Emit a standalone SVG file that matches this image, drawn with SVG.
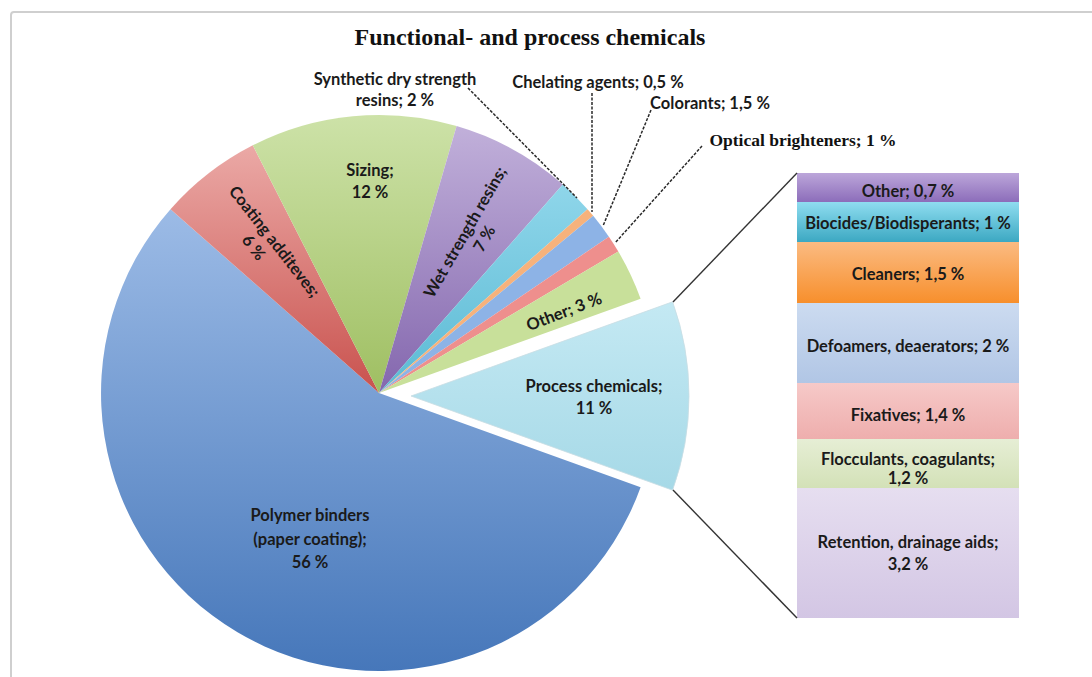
<svg xmlns="http://www.w3.org/2000/svg" width="1092" height="677" viewBox="0 0 1092 677">
<defs>
<linearGradient id="gBlue" x1="0" y1="0" x2="0" y2="1"><stop offset="0" stop-color="#9CBBE6"/><stop offset="1" stop-color="#4677BA"/></linearGradient>
<linearGradient id="gRed" x1="0" y1="0" x2="0" y2="1"><stop offset="0" stop-color="#EBA9A6"/><stop offset="1" stop-color="#C9524E"/></linearGradient>
<linearGradient id="gGreen" x1="0" y1="0" x2="0" y2="1"><stop offset="0" stop-color="#CDE2A8"/><stop offset="1" stop-color="#9FBF62"/></linearGradient>
<linearGradient id="gPurple" x1="0" y1="0" x2="0" y2="1"><stop offset="0" stop-color="#C1B0DA"/><stop offset="1" stop-color="#8467AE"/></linearGradient>
<linearGradient id="gCyan" x1="0" y1="0" x2="0" y2="1"><stop offset="0" stop-color="#8FD6EA"/><stop offset="1" stop-color="#5BBAD4"/></linearGradient>
<linearGradient id="gProc" x1="0" y1="0" x2="0" y2="1"><stop offset="0" stop-color="#C4E9F3"/><stop offset="1" stop-color="#A6D9E7"/></linearGradient>
<linearGradient id="bOther" x1="0" y1="0" x2="0" y2="1"><stop offset="0" stop-color="#BCA6DA"/><stop offset="1" stop-color="#8C6DBA"/></linearGradient>
<linearGradient id="bBio" x1="0" y1="0" x2="0" y2="1"><stop offset="0" stop-color="#8FDDF0"/><stop offset="1" stop-color="#3CA8C2"/></linearGradient>
<linearGradient id="bClean" x1="0" y1="0" x2="0" y2="1"><stop offset="0" stop-color="#FBBB82"/><stop offset="1" stop-color="#F78F2C"/></linearGradient>
<linearGradient id="bDef" x1="0" y1="0" x2="0" y2="1"><stop offset="0" stop-color="#CCDBF0"/><stop offset="1" stop-color="#B1C6E5"/></linearGradient>
<linearGradient id="bFix" x1="0" y1="0" x2="0" y2="1"><stop offset="0" stop-color="#F6C9C8"/><stop offset="1" stop-color="#EEAEAD"/></linearGradient>
<linearGradient id="bFloc" x1="0" y1="0" x2="0" y2="1"><stop offset="0" stop-color="#E6EED5"/><stop offset="1" stop-color="#D3E1B7"/></linearGradient>
<linearGradient id="bRet" x1="0" y1="0" x2="0" y2="1"><stop offset="0" stop-color="#E6DEF0"/><stop offset="1" stop-color="#D3C6E4"/></linearGradient>
</defs>
<style>
.lbl{font-family:Lato,"Open Sans","Liberation Sans",sans-serif;font-weight:bold;font-size:16.5px;fill:#1a1a1a;text-anchor:middle}
.ser{font-family:"Liberation Serif","Times New Roman",serif;font-weight:bold;fill:#111;text-anchor:middle}
.dash{stroke:#2a2a2a;stroke-width:1.5;stroke-dasharray:3 1.5;fill:none}
.conn{stroke:#333;stroke-width:1.4;fill:none}
</style>
<rect x="11" y="12" width="1100" height="700" rx="3" fill="#fff" stroke="#cfcfcf" stroke-width="2"/>
<text class="ser" x="530" y="45" font-size="24">Functional- and process chemicals</text>

<g id="polymer"><path d="M379,393 L170.5,209.2 A278,278 0 1 0 640.6,487.2 Z" fill="url(#gBlue)"/>
<text class="lbl"><tspan x="310" y="521">Polymer binders</tspan><tspan x="310" y="545">(paper coating);</tspan><tspan x="310" y="568">56 %</tspan></text></g>
<g id="coating"><path d="M379,393 L252.8,145.3 A278,278 0 0 0 170.5,209.2 Z" fill="url(#gRed)"/>
<text class="lbl" transform="translate(270,245) rotate(52)"><tspan x="0" y="0">Coating additeves;</tspan><tspan x="-8" y="20">6 %</tspan></text></g>
<g id="sizing"><path d="M379,393 L456.6,126 A278,278 0 0 0 252.8,145.3 Z" fill="url(#gGreen)"/>
<text class="lbl"><tspan x="370" y="176">Sizing;</tspan><tspan x="370" y="198">12 %</tspan></text></g>
<g id="wet"><path d="M379,393 L562.8,184.5 A278,278 0 0 0 456.6,126 Z" fill="url(#gPurple)"/>
<text class="lbl" transform="translate(470,235) rotate(-60)"><tspan x="0" y="0">Wet strength resins;</tspan><tspan x="4" y="20">7 %</tspan></text></g>
<g id="synthetic"><path d="M379,393 L587.5,209.2 A278,278 0 0 0 562.8,184.5 Z" fill="url(#gCyan)"/>
<text class="lbl"><tspan x="395" y="85">Synthetic dry strength</tspan><tspan x="395" y="106">resins; 2 %</tspan></text></g>
<g id="chelating"><path d="M379,393 L593.2,215.8 A278,278 0 0 0 587.5,209.2 Z" fill="#F6B27C"/>
<text class="lbl" x="598" y="88">Chelating agents; 0,5 %</text></g>
<g id="colorants"><path d="M379,393 L608.9,236.7 A278,278 0 0 0 593.2,215.8 Z" fill="#8DB3E6"/>
<text class="lbl" x="710" y="109">Colorants; 1,5 %</text></g>
<g id="optical"><path d="M379,393 L618.3,251.5 A278,278 0 0 0 608.9,236.7 Z" fill="#EE8F8D"/>
<text class="ser" x="803" y="146" font-size="17.5">Optical brighteners; 1 %</text></g>
<g id="other"><path d="M379,393 L640.6,298.8 A278,278 0 0 0 618.3,251.5 Z" fill="#C8E09A"/>
<text class="lbl" transform="translate(566,317) rotate(-21)" x="0" y="0">Other; 3 %</text></g>
<g id="process"><path d="M411,396 L672.6,490.2 A278,278 0 0 0 672.6,301.8 Z" fill="url(#gProc)" stroke="#c9dde3" stroke-width="0.8"/>
<text class="lbl"><tspan x="594" y="392">Process chemicals;</tspan><tspan x="594" y="414">11 %</tspan></text></g>

<g id="bar">
<rect x="797" y="173" width="222" height="29" fill="url(#bOther)"/>
<rect x="797" y="202" width="222" height="40" fill="url(#bBio)"/>
<rect x="797" y="242" width="222" height="61" fill="url(#bClean)"/>
<rect x="797" y="303" width="222" height="80" fill="url(#bDef)"/>
<rect x="797" y="383" width="222" height="56" fill="url(#bFix)"/>
<rect x="797" y="439" width="222" height="49" fill="url(#bFloc)"/>
<rect x="797" y="488" width="222" height="130" fill="url(#bRet)"/>
<text class="lbl" x="908" y="197">Other; 0,7 %</text>
<text class="lbl" x="908" y="229">Biocides/Biodisperants; 1 %</text>
<text class="lbl" x="908" y="280">Cleaners; 1,5 %</text>
<text class="lbl" x="908" y="352">Defoamers, deaerators; 2 %</text>
<text class="lbl" x="908" y="421">Fixatives; 1,4 %</text>
<text class="lbl"><tspan x="908" y="465">Flocculants, coagulants;</tspan><tspan x="908" y="484">1,2 %</tspan></text>
<text class="lbl"><tspan x="908" y="548">Retention, drainage aids;</tspan><tspan x="908" y="570">3,2 %</tspan></text>
</g>

<g id="connectors">
<path class="conn" d="M673,302 L797,173"/>
<path class="conn" d="M673,490 L797,618"/>
<path class="dash" d="M468,88 L577,198"/>
<path class="dash" d="M592,93 L592,212"/>
<path class="dash" d="M651,110 L603,226"/>
<path class="dash" d="M702,146 L615,243"/>
</g>
</svg>
